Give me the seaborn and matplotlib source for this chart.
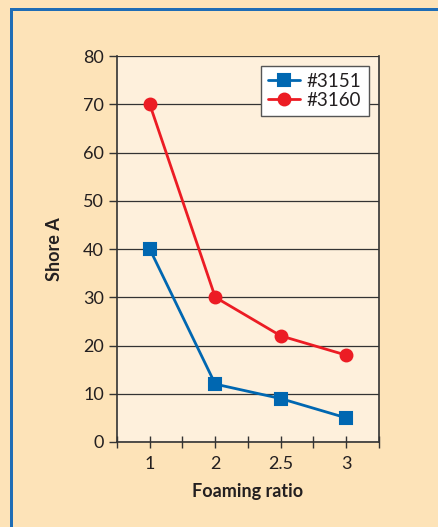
import matplotlib
matplotlib.use("Agg")
import matplotlib.pyplot as plt
from matplotlib.patches import Rectangle
from matplotlib.ticker import FixedLocator
import pandas as pd
import seaborn as sns

# values
ratios = ["1", "2", "2.5", "3"]
shore_3151 = [40, 12, 9, 5]
shore_3160 = [70, 30, 22, 18]
series_names = ["#3151", "#3160"]

df = pd.DataFrame({
    "Foaming ratio": ratios * 2,
    "Shore A": shore_3151 + shore_3160,
    "grade": [series_names[0]] * 4 + [series_names[1]] * 4,
})

sns.set_theme(style="white")
plt.rcParams["font.family"] = ["Lato", "DejaVu Sans"]

outer_bg = "#FDE3B8"
inner_bg = "#FEF0DC"
text_col = "#231F20"
frame_col = "#1F6DB5"

fig = plt.figure(figsize=(4.39, 5.27), dpi=100, facecolor=outer_bg)
ax = fig.add_axes([117 / 439, 1 - 442 / 527, (379 - 117) / 439, (442 - 56) / 527])
ax.set_facecolor(inner_bg)

# blue frame: only top and left edges show in the crop
W, H = 439, 527
fig.patches.append(Rectangle((10 / W, 0), 2.5 / W, (H - 8) / H,
                             transform=fig.transFigure, facecolor=frame_col,
                             edgecolor="none"))
fig.patches.append(Rectangle((10 / W, (H - 10.5) / H), 1, 2.5 / H,
                             transform=fig.transFigure, facecolor=frame_col,
                             edgecolor="none"))

sns.pointplot(data=df, x="Foaming ratio", y="Shore A", hue="grade",
              order=ratios, hue_order=series_names,
              palette=["#0067B1", "#EC1C24"], markers=["s", "o"],
              linestyles=["-", "-"], markersize=8.5, linewidth=2,
              errorbar=None, ax=ax)

ax.set_ylim(0, 80)
ax.set_xlim(-0.5, 3.5)
ax.set_yticks(range(0, 81, 10))
ax.yaxis.grid(True, color="#333333", linewidth=0.9)
ax.set_axisbelow(True)

ax.xaxis.set_minor_locator(FixedLocator([-0.5, 0.5, 1.5, 2.5, 3.5]))
ax.tick_params(axis="x", which="both", direction="inout", length=8, width=1,
               color="#333333", bottom=True, labelsize=13, pad=6, labelcolor=text_col)
ax.tick_params(axis="y", direction="out", length=6, width=1, color="#333333",
               left=True, labelsize=13, labelcolor=text_col)

for side in ["left", "bottom", "right"]:
    ax.spines[side].set_visible(True)
    ax.spines[side].set_color("#333333")
    ax.spines[side].set_linewidth(1.2)
ax.spines["top"].set_visible(False)

ax.set_xlabel("Foaming ratio", fontsize=13, fontweight="bold", color=text_col, labelpad=8)
ax.set_ylabel("Shore A", fontsize=13, fontweight="bold", color=text_col, labelpad=14)

leg = ax.legend(loc="upper right", bbox_to_anchor=(0.975, 0.985), fontsize=13.5,
                frameon=True, fancybox=False, edgecolor="#555555",
                facecolor="white", framealpha=1, handlelength=1.7,
                labelspacing=0.1, borderpad=0.4, handletextpad=0.35,
                borderaxespad=0.2)
leg.get_frame().set_linewidth(1)
for t in leg.get_texts():
    t.set_color(text_col)

fig.savefig("out.png", dpi=100, facecolor=outer_bg, edgecolor="none")
